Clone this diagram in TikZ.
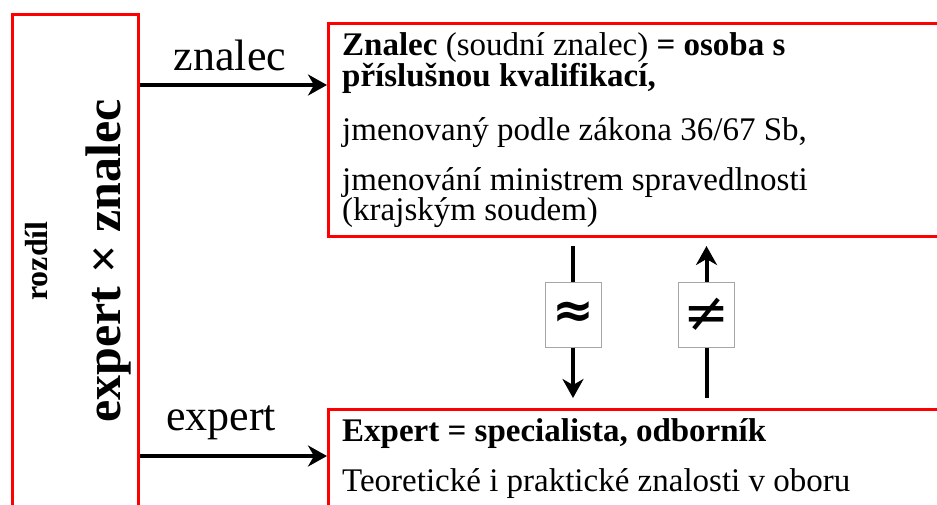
\documentclass[tikz,border=0pt]{standalone}
\usepackage{fontspec}
\setmainfont{Liberation Serif}
\newfontfamily\symfont{DejaVu Sans}
\usetikzlibrary{arrows.meta}
\tikzset{
  redbox/.style={draw=red, line width=3pt, inner sep=0pt, anchor=north west},
  arr/.style={line width=4pt, -{Stealth[length=19pt,width=21pt,inset=6pt]}},
  plain/.style={line width=4pt},
  symbox/.style={draw=black!35, line width=1pt, fill=white, minimum width=56pt, minimum height=65pt, inner sep=0pt},
  boxtxt/.style={anchor=base west, inner sep=0pt, font=\fontsize{33}{31}\selectfont},
  lbl/.style={anchor=base, inner sep=0pt, font=\fontsize{44}{44}\selectfont},
}
\begin{document}
\begin{tikzpicture}[x=1pt,y=-1pt]
\useasboundingbox (0,0) rectangle (937,504);
\clip (0,0) rectangle (937,504);
% boxes
\node[redbox, minimum width=126pt, minimum height=520pt] (lbox) at (11,13) {};
\node[redbox, minimum width=640pt, minimum height=213pt] (zbox) at (327,22) {};
\node[redbox, minimum width=640pt, minimum height=150pt] (ebox) at (327,408) {};
% left texts
\node[rotate=90, anchor=base, inner sep=0pt, font=\fontsize{32}{32}\selectfont\bfseries] (rozdil) at (47,261) {rozdíl};
\node[rotate=90, anchor=base, inner sep=0pt, font=\fontsize{50}{50}\selectfont\bfseries] (exz) at (120,261) {expert × znalec};
% labels and arrows
\node[lbl] (lz) at (230,70) {znalec};
\node[lbl] (le) at (221,430) {expert};
\draw[arr] (lbox.east |- 0,85) -- (zbox.west |- 0,85);
\draw[arr] (lbox.east |- 0,456) -- (ebox.west |- 0,456);
% znalec text
\node[boxtxt] (z1) at (342,55) {\textbf{Znalec} (soudní znalec) \textbf{= osoba s}};
\node[boxtxt] (z2) at (342,86) {\textbf{příslušnou kvalifikací,}};
\node[boxtxt] (z3) at (342,140) {jmenovaný podle zákona 36/67 Sb,};
\node[boxtxt] (z4) at (342,190) {jmenování ministrem spravedlnosti};
\node[boxtxt] (z5) at (342,220) {(krajským soudem)};
% expert text
\node[boxtxt] (e1) at (342,441) {\textbf{Expert = specialista, odborník}};
\node[boxtxt] (e2) at (342,491) {Teoretické i praktické znalosti v oboru};
% symbols
\node[symbox, font=\fontsize{50}{50}\selectfont\symfont\bfseries] (approx) at (573,314.5) {≈};
\node[symbox, font=\fontsize{55}{55}\selectfont\symfont] (neq) at (706.5,314.5) {≠};
\draw[plain, shorten >=8pt] (approx.north) -- (approx.north |- zbox.south);
\draw[arr, shorten >=10pt] (approx.south) -- (approx.south |- ebox.north);
\draw[plain, shorten >=10pt] (neq.south) -- (neq.south |- ebox.north);
\draw[arr, shorten >=8pt] (neq.north) -- (neq.north |- zbox.south);
\end{tikzpicture}
\end{document}
